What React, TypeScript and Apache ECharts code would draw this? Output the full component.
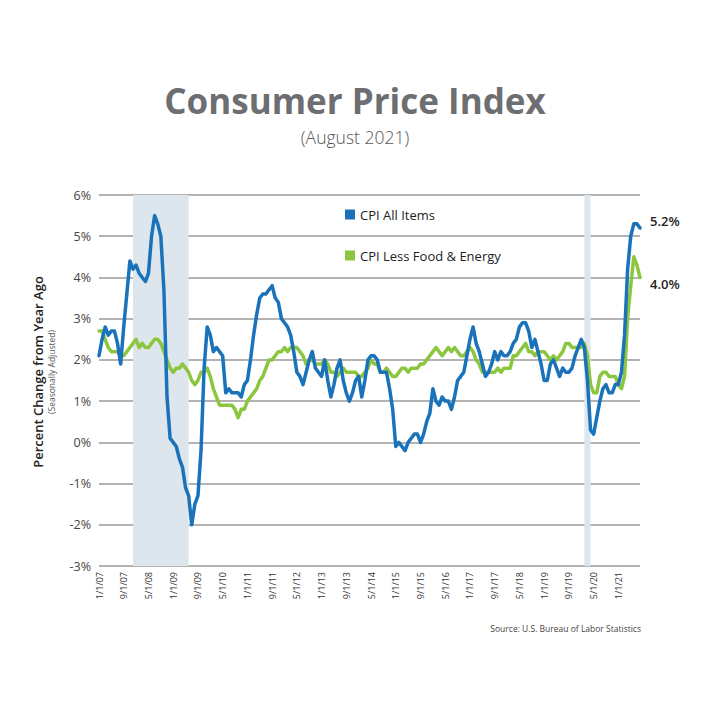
import React, { useEffect, useRef } from "react";
import * as echarts from "echarts";

// Monthly categories 1/1/07 .. 8/1/21
const startYear = 2007;
const endYear = 2021;
const endMonth = 8;
const months: string[] = [];
for (let y = startYear; y <= endYear; y++) {
  for (let m = 1; m <= 12; m++) {
    if (y === endYear && m > endMonth) break;
    months.push(`${m}/1/${String(y % 100).padStart(2, "0")}`);
  }
}

// CPI All Items, % change from year ago
const cpiAll: number[] = [
  2.1, 2.5, 2.8, 2.6, 2.7, 2.7, 2.4, 1.9, 2.8, 3.6, 4.4, 4.2, // 2007
  4.3, 4.1, 4.0, 3.9, 4.1, 5.0, 5.5, 5.3, 5.0, 3.7, 1.1, 0.1, // 2008
  0.0, -0.1, -0.4, -0.6, -1.1, -1.3, -2.0, -1.5, -1.3, -0.2, 1.8, 2.8, // 2009
  2.6, 2.2, 2.3, 2.2, 2.1, 1.2, 1.3, 1.2, 1.2, 1.2, 1.1, 1.4, // 2010
  1.5, 2.0, 2.6, 3.1, 3.5, 3.6, 3.6, 3.7, 3.8, 3.5, 3.4, 3.0, // 2011
  2.9, 2.8, 2.6, 2.2, 1.7, 1.6, 1.4, 1.7, 2.0, 2.2, 1.8, 1.7, // 2012
  1.6, 2.0, 1.5, 1.1, 1.4, 1.8, 2.0, 1.5, 1.2, 1.0, 1.2, 1.5, // 2013
  1.6, 1.1, 1.5, 2.0, 2.1, 2.1, 2.0, 1.7, 1.7, 1.7, 1.3, 0.8, // 2014
  -0.1, 0.0, -0.1, -0.2, 0.0, 0.1, 0.2, 0.2, 0.0, 0.2, 0.5, 0.7, // 2015
  1.3, 1.0, 0.9, 1.1, 1.0, 1.0, 0.8, 1.1, 1.5, 1.6, 1.7, 2.1, // 2016
  2.5, 2.8, 2.4, 2.2, 1.9, 1.6, 1.7, 1.9, 2.2, 2.0, 2.2, 2.1, // 2017
  2.1, 2.2, 2.4, 2.5, 2.8, 2.9, 2.9, 2.7, 2.3, 2.5, 2.2, 1.9, // 2018
  1.5, 1.5, 1.9, 2.0, 1.8, 1.6, 1.8, 1.7, 1.7, 1.8, 2.1, 2.3, // 2019
  2.5, 2.3, 1.5, 0.3, 0.2, 0.6, 1.0, 1.3, 1.4, 1.2, 1.2, 1.4, // 2020
  1.4, 1.7, 2.6, 4.2, 5.0, 5.3, 5.3, 5.2, // 2021
];

// CPI Less Food & Energy, % change from year ago
const cpiCore: number[] = [
  2.7, 2.7, 2.5, 2.3, 2.2, 2.2, 2.2, 2.1, 2.1, 2.2, 2.3, 2.4, // 2007
  2.5, 2.3, 2.4, 2.3, 2.3, 2.4, 2.5, 2.5, 2.4, 2.2, 2.0, 1.8, // 2008
  1.7, 1.8, 1.8, 1.9, 1.8, 1.7, 1.5, 1.4, 1.5, 1.7, 1.7, 1.8, // 2009
  1.6, 1.3, 1.1, 0.9, 0.9, 0.9, 0.9, 0.9, 0.8, 0.6, 0.8, 0.8, // 2010
  1.0, 1.1, 1.2, 1.3, 1.5, 1.6, 1.8, 2.0, 2.0, 2.1, 2.2, 2.2, // 2011
  2.3, 2.2, 2.3, 2.3, 2.3, 2.2, 2.1, 1.9, 2.0, 2.0, 1.9, 1.9, // 2012
  1.9, 2.0, 1.9, 1.7, 1.7, 1.6, 1.7, 1.8, 1.7, 1.7, 1.7, 1.7, // 2013
  1.6, 1.6, 1.7, 1.8, 2.0, 1.9, 1.9, 1.7, 1.7, 1.8, 1.7, 1.6, // 2014
  1.6, 1.7, 1.8, 1.8, 1.7, 1.8, 1.8, 1.8, 1.9, 1.9, 2.0, 2.1, // 2015
  2.2, 2.3, 2.2, 2.1, 2.2, 2.3, 2.2, 2.3, 2.2, 2.1, 2.1, 2.2, // 2016
  2.3, 2.2, 2.0, 1.9, 1.7, 1.7, 1.7, 1.7, 1.7, 1.8, 1.7, 1.8, // 2017
  1.8, 1.8, 2.1, 2.1, 2.2, 2.3, 2.4, 2.2, 2.2, 2.1, 2.2, 2.2, // 2018
  2.2, 2.1, 2.0, 2.1, 2.0, 2.1, 2.2, 2.4, 2.4, 2.3, 2.3, 2.3, // 2019
  2.3, 2.4, 2.1, 1.4, 1.2, 1.2, 1.6, 1.7, 1.7, 1.6, 1.6, 1.6, // 2020
  1.4, 1.3, 1.6, 3.0, 3.8, 4.5, 4.3, 4.0, // 2021
];

// Recession periods (shaded)
const recessions: [string, string][] = [
  ["12/1/07", "6/1/09"],
  ["2/1/20", "4/1/20"],
];

const seriesNames = ["CPI All Items", "CPI Less Food & Energy"];
const yTicks = { min: -3, max: 6, interval: 1 };

export default function App() {
  const ref = useRef<HTMLDivElement>(null);
  useEffect(() => {
    if (!ref.current) return;
    const chart = echarts.init(ref.current, undefined, { renderer: "svg" });
    const font = "'Open Sans', 'Noto Sans', sans-serif";
    chart.setOption({
      animation: false,
      backgroundColor: "#ffffff",
      textStyle: { fontFamily: font },
      title: [
        {
          text: "Consumer Price Index",
          left: "center",
          top: 70,
          textStyle: {
            fontSize: 35,
            lineHeight: 34,
            fontWeight: "bold",
            color: "#6d6e71",
            fontFamily: font,
          },
        },
        {
          text: "(August 2021)",
          left: "center",
          top: 114,
          textStyle: {
            fontSize: 17.5,
            lineHeight: 19,
            fontWeight: 300,
            color: "#555555",
            fontFamily: font,
          },
        },
      ],
      legend: {
        data: seriesNames,
        orient: "vertical",
        left: 332,
        top: 195,
        itemWidth: 10,
        itemHeight: 10,
        itemGap: 28,
        icon: "rect",
        textStyle: { fontSize: 13, color: "#222222", fontFamily: font },
      },
      grid: { left: 91, right: 62, top: 187, bottom: 136, containLabel: false },
      xAxis: {
        type: "category",
        data: months,
        boundaryGap: false,
        axisLine: { show: false },
        axisTick: { show: false },
        axisLabel: {
          interval: 7,
          rotate: 90,
          fontSize: 9,
          color: "#333333",
          margin: 6,
          fontFamily: font,
        },
      },
      yAxis: {
        type: "value",
        min: yTicks.min,
        max: yTicks.max,
        interval: yTicks.interval,
        axisLine: { show: false },
        axisTick: { show: false },
        axisLabel: {
          formatter: "{value}%",
          fontSize: 12.5,
          color: "#444444",
          margin: 8,
          fontFamily: font,
        },
        splitLine: { lineStyle: { color: "#9a9a9a", width: 1.5 } },
      },
      graphic: [
        {
          type: "text",
          x: 30,
          y: 364,
          rotation: Math.PI / 2,
          style: {
            text: "Percent Change from Year Ago",
            fontSize: 13,
            fontWeight: 600,
            fill: "#222222",
            align: "center",
            verticalAlign: "middle",
            fontFamily: font,
          },
        },
        {
          type: "text",
          x: 43,
          y: 364,
          rotation: Math.PI / 2,
          style: {
            text: "(Seasonally Adjusted)",
            fontSize: 8.5,
            fill: "#555555",
            align: "center",
            verticalAlign: "middle",
            fontFamily: font,
          },
        },
        {
          type: "text",
          x: 633,
          y: 620,
          style: {
            text: "Source: U.S. Bureau of Labor Statistics",
            fontSize: 8.5,
            fill: "#444444",
            align: "right",
            verticalAlign: "middle",
            fontFamily: font,
          },
        },
      ],
      series: [
        {
          name: seriesNames[0],
          type: "line",
          data: cpiAll,
          showSymbol: false,
          z: 4,
          color: "#1a73ba",
          lineStyle: { width: 3.5, color: "#1a73ba", cap: "round", join: "round" },
          endLabel: {
            show: true,
            formatter: (p: any) => `${Number(p.value).toFixed(1)}%`,
            fontSize: 13,
            fontWeight: 600,
            color: "#222222",
            offset: [2, -7],
            fontFamily: font,
          },
          markArea: {
            silent: true,
            itemStyle: { color: "#dde6ec" },
            data: recessions.map(([a, b]) => [{ xAxis: a }, { xAxis: b }]),
          },
        },
        {
          name: seriesNames[1],
          type: "line",
          data: cpiCore,
          showSymbol: false,
          z: 3,
          color: "#8cc63f",
          lineStyle: { width: 3.5, color: "#8cc63f", cap: "round", join: "round" },
          endLabel: {
            show: true,
            formatter: (p: any) => `${Number(p.value).toFixed(1)}%`,
            fontSize: 13,
            fontWeight: 600,
            color: "#222222",
            offset: [2, 7],
            fontFamily: font,
          },
        },
      ],
    });
    return () => chart.dispose();
  }, []);
  return <div ref={ref} style={{ width: 694, height: 694 }} />;
}
